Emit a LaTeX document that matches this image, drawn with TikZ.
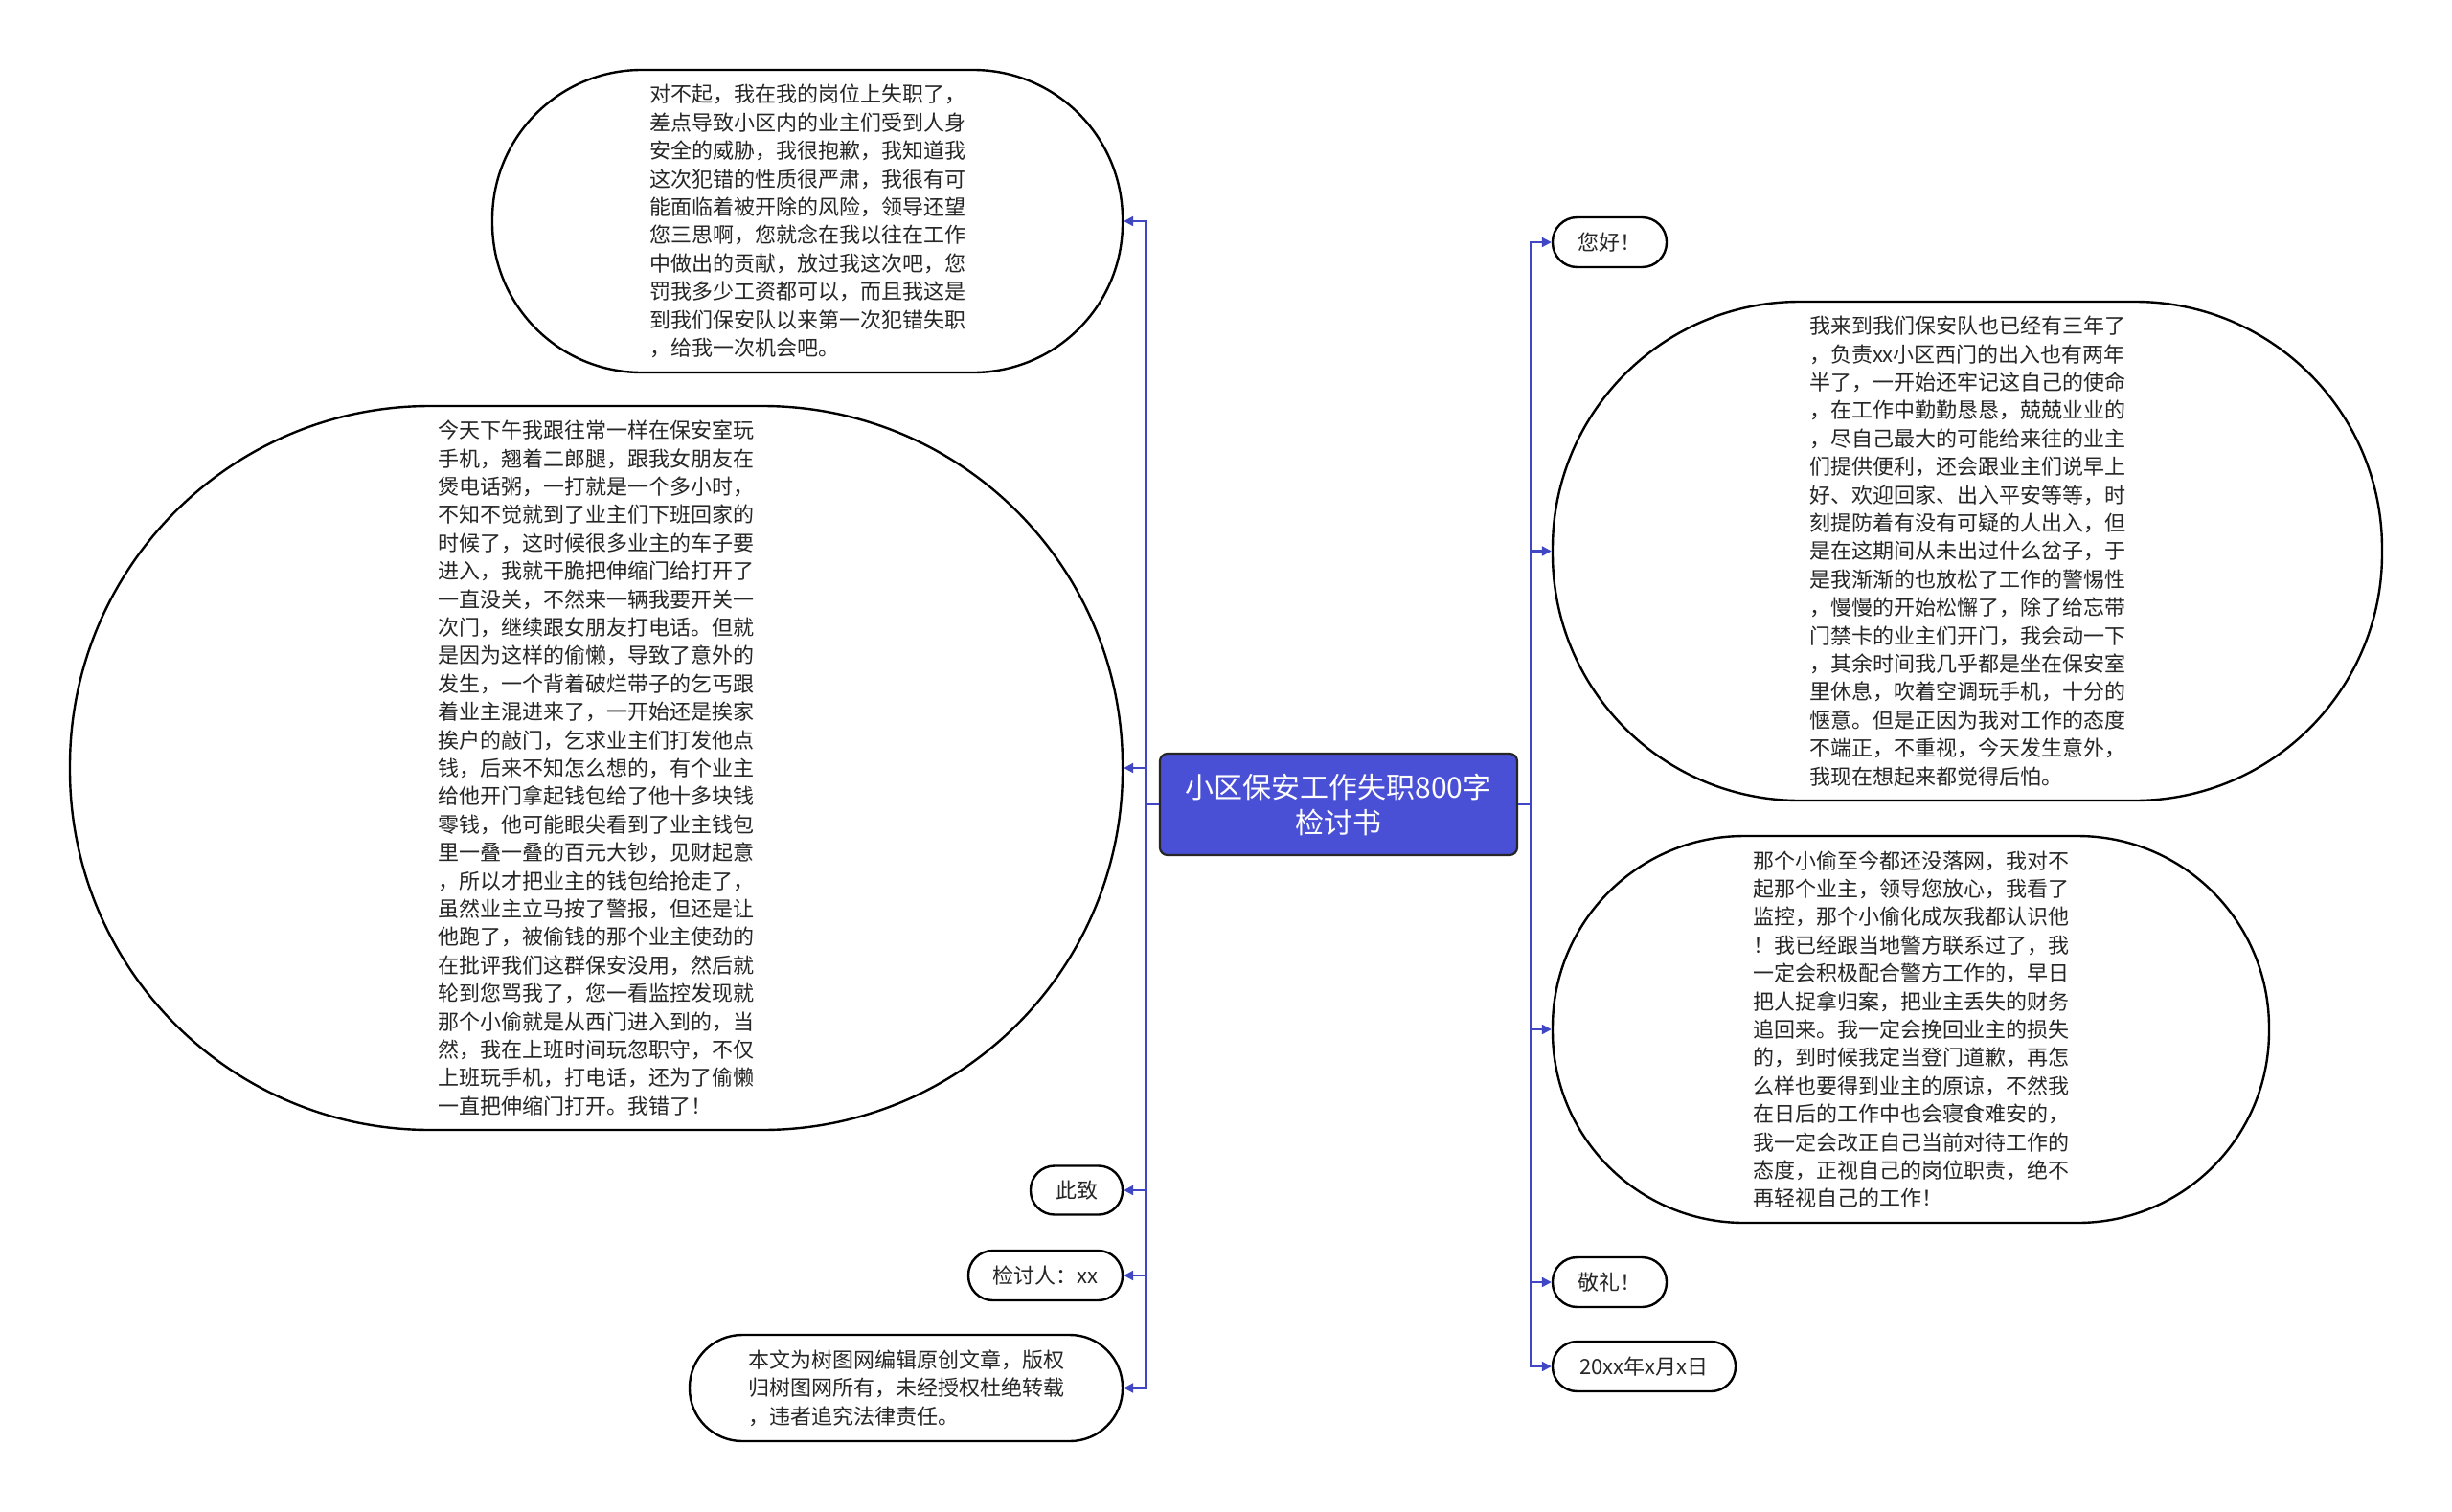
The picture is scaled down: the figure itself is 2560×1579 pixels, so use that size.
\documentclass[tikz,border=0pt]{standalone}
\usepackage{fontspec}
\newfontfamily\cjk{Noto Sans CJK SC}
\usetikzlibrary{arrows.meta}
\definecolor{conncol}{HTML}{3F47C4}
\definecolor{rootfill}{HTML}{4A50D6}
\definecolor{txt}{HTML}{262626}
\begin{document}
\begin{tikzpicture}[x=0.5pt,y=-0.5pt,
  leaf/.style={draw=black, line width=1.2pt, fill=white, text=txt,
    font=\cjk\fontsize{11}{14.7}\selectfont, align=left, inner sep=0pt},
  rootbox/.style={draw=black!85, line width=1.1pt, fill=rootfill, text=white,
    font=\cjk\fontsize{15}{18.5}\selectfont, align=center, inner sep=0pt,
    rounded corners=4pt, minimum width=186.5pt, minimum height=53pt},
  conn/.style={draw=conncol, line width=1.1pt, -{Triangle[length=5pt,width=5pt]}}]
\useasboundingbox (0,0) rectangle (2560,1579);
\fill[white] (0,0) rectangle (2560,1579);

\node[rootbox] (ctr) at (1397.5,840) {小区保安工作失职800字\\检讨书};

% left side
\node[leaf, minimum width=329pt, minimum height=158pt, rounded corners=78pt] (A) at (843,231) {对不起，我在我的岗位上失职了，\\差点导致小区内的业主们受到人身\\安全的威胁，我很抱歉，我知道我\\这次犯错的性质很严肃，我很有可\\能面临着被开除的风险，领导还望\\您三思啊，您就念在我以往在工作\\中做出的贡献，放过我这次吧，您\\罚我多少工资都可以，而且我这是\\到我们保安队以来第一次犯错失职\\，给我一次机会吧。};

\node[leaf, minimum width=549.5pt, minimum height=378pt, rounded corners=188pt] (B) at (622.5,802) {今天下午我跟往常一样在保安室玩\\手机，翘着二郎腿，跟我女朋友在\\煲电话粥，一打就是一个多小时，\\不知不觉就到了业主们下班回家的\\时候了，这时候很多业主的车子要\\进入，我就干脆把伸缩门给打开了\\一直没关，不然来一辆我要开关一\\次门，继续跟女朋友打电话。但就\\是因为这样的偷懒，导致了意外的\\发生，一个背着破烂带子的乞丐跟\\着业主混进来了，一开始还是挨家\\挨户的敲门，乞求业主们打发他点\\钱，后来不知怎么想的，有个业主\\给他开门拿起钱包给了他十多块钱\\零钱，他可能眼尖看到了业主钱包\\里一叠一叠的百元大钞，见财起意\\，所以才把业主的钱包给抢走了，\\虽然业主立马按了警报，但还是让\\他跑了，被偷钱的那个业主使劲的\\在批评我们这群保安没用，然后就\\轮到您骂我了，您一看监控发现就\\那个小偷就是从西门进入到的，当\\然，我在上班时间玩忽职守，不仅\\上班玩手机，打电话，还为了偷懒\\一直把伸缩门打开。我错了！};

\node[leaf, minimum width=48pt, minimum height=25.5pt, rounded corners=12.5pt] (C) at (1124,1243) {此致};

\node[leaf, minimum width=80.5pt, minimum height=26pt, rounded corners=12.8pt] (D) at (1091.5,1332) {检讨人：xx};

\node[leaf, minimum width=226pt, minimum height=55.5pt, rounded corners=27.5pt] (E) at (946,1449.5) {本文为树图网编辑原创文章，版权\\归树图网所有，未经授权杜绝转载\\，违者追究法律责任。};

% right side
\node[leaf, minimum width=59.5pt, minimum height=26pt, rounded corners=12.8pt] (F) at (1680.5,253) {您好！};

\node[leaf, minimum width=433pt, minimum height=260.5pt, rounded corners=129pt] (G) at (2054,575.5) {我来到我们保安队也已经有三年了\\，负责xx小区西门的出入也有两年\\半了，一开始还牢记这自己的使命\\，在工作中勤勤恳恳，兢兢业业的\\，尽自己最大的可能给来往的业主\\们提供便利，还会跟业主们说早上\\好、欢迎回家、出入平安等等，时\\刻提防着有没有可疑的人出入，但\\是在这期间从未出过什么岔子，于\\是我渐渐的也放松了工作的警惕性\\，慢慢的开始松懈了，除了给忘带\\门禁卡的业主们开门，我会动一下\\，其余时间我几乎都是坐在保安室\\里休息，吹着空调玩手机，十分的\\惬意。但是正因为我对工作的态度\\不端正，不重视，今天发生意外，\\我现在想起来都觉得后怕。};

\node[leaf, minimum width=374pt, minimum height=202pt, rounded corners=100pt] (H) at (1995,1075) {那个小偷至今都还没落网，我对不\\起那个业主，领导您放心，我看了\\监控，那个小偷化成灰我都认识他\\！我已经跟当地警方联系过了，我\\一定会积极配合警方工作的，早日\\把人捉拿归案，把业主丢失的财务\\追回来。我一定会挽回业主的损失\\的，到时候我定当登门道歉，再怎\\么样也要得到业主的原谅，不然我\\在日后的工作中也会寝食难安的，\\我一定会改正自己当前对待工作的\\态度，正视自己的岗位职责，绝不\\再轻视自己的工作！};

\node[leaf, minimum width=59.5pt, minimum height=26pt, rounded corners=12.8pt] (I) at (1680.5,1339) {敬礼！};

\node[leaf, minimum width=95.5pt, minimum height=26pt, rounded corners=12.8pt] (J) at (1716.5,1427) {20xx年x月x日};

% connectors
\foreach \n in {A,B,C,D,E}
  \draw[conn] (ctr.west) -- ++(-14,0) |- (\n.east);
\foreach \n in {F,G,H,I,J}
  \draw[conn] (ctr.east) -- ++(13,0) |- (\n.west);
\end{tikzpicture}
\end{document}
